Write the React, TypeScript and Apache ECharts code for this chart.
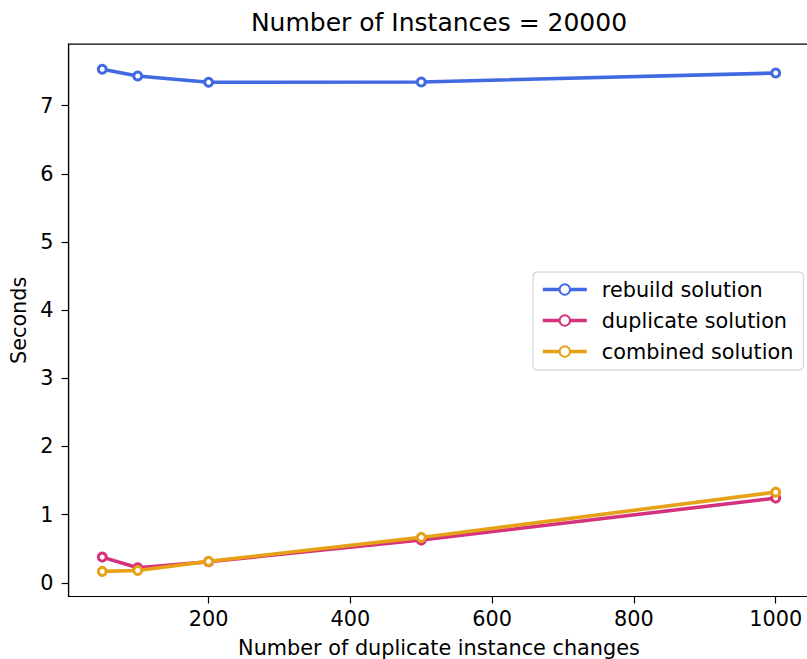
import React, { useEffect, useRef } from "react";
import * as echarts from "echarts";

const xValues = [50, 100, 200, 500, 1000];
const rebuild = [7.535, 7.436, 7.344, 7.348, 7.48];
const duplicate = [0.377, 0.22, 0.31, 0.627, 1.243];
const combined = [0.167, 0.18, 0.314, 0.666, 1.33];
const xTicks = [200, 400, 600, 800, 1000];
const yTicks = [0, 1, 2, 3, 4, 5, 6, 7];

const FONT = "DejaVu Sans";
const FS = 20.8;

export default function App() {
  const ref = useRef<HTMLDivElement>(null);
  useEffect(() => {
    if (!ref.current) return;
    const chart = echarts.init(ref.current, undefined, { renderer: "svg" });
    const mk = (name: string, data: number[], color: string, z: number) => ({
      name,
      type: "line",
      data: xValues.map((x, i) => [x, data[i]]),
      symbol: "circle",
      symbolSize: 8,
      showSymbol: true,
      z,
      lineStyle: { color, width: 3.6 },
      itemStyle: { color: "#ffffff", borderColor: color, borderWidth: 3 },
      emphasis: { disabled: true },
    });
    chart.setOption({
      animation: false,
      backgroundColor: "#ffffff",
      title: {
        text: "Number of Instances = 20000",
        left: 439,
        top: 10,
        padding: 0,
        textAlign: "center",
        textStyle: { fontFamily: FONT, fontSize: 25, fontWeight: "normal", color: "#000" },
      },
      grid: {
        left: 68.6,
        top: 44.2,
        width: 740.8,
        height: 552.3,
        containLabel: false,
        outerBoundsMode: "none",
        show: true,
        borderColor: "#000",
        borderWidth: 1.2,
        backgroundColor: "transparent",
      },
      legend: {
        orient: "vertical",
        left: 533,
        top: 272,
        padding: [7, 10, 8, 8],
        itemWidth: 44,
        itemHeight: 13,
        itemGap: 10,
        backgroundColor: "#ffffff",
        borderColor: "#cccccc",
        borderWidth: 1,
        borderRadius: 4,
        lineStyle: { width: 3.6 },
        textStyle: { fontFamily: FONT, fontSize: FS, color: "#000", padding: [0, 0, 0, 10] },
        data: ["rebuild solution", "duplicate solution", "combined solution"],
      },
      xAxis: {
        type: "value",
        min: 2.5,
        max: 1047.5,
        name: "Number of duplicate instance changes",
        nameLocation: "middle",
        nameGap: 41,
        nameTextStyle: { fontFamily: FONT, fontSize: FS, color: "#000" },
        splitLine: { show: false },
        axisLine: { show: true, onZero: false, lineStyle: { color: "#000", width: 1.2 } },
        axisTick: { show: true, length: 7, customValues: xTicks, lineStyle: { color: "#000", width: 1.2 } },
        axisLabel: {
          customValues: xTicks,
          margin: 12,
          fontFamily: FONT,
          fontSize: FS,
          color: "#000",
          formatter: (v: number) => String(v),
        },
      },
      yAxis: {
        type: "value",
        min: -0.201,
        max: 7.903,
        name: "Seconds",
        nameLocation: "middle",
        nameGap: 36,
        nameRotate: 90,
        nameTextStyle: { fontFamily: FONT, fontSize: FS, color: "#000" },
        splitLine: { show: false },
        axisLine: { show: true, onZero: false, lineStyle: { color: "#000", width: 1.2 } },
        axisTick: { show: true, length: 7, customValues: yTicks, lineStyle: { color: "#000", width: 1.2 } },
        axisLabel: {
          customValues: yTicks,
          margin: 15,
          fontFamily: FONT,
          fontSize: FS,
          color: "#000",
          formatter: (v: number) => String(v),
        },
      },
      series: [
        mk("rebuild solution", rebuild, "#4169e1", 3),
        mk("duplicate solution", duplicate, "#d6317d", 4),
        mk("combined solution", combined, "#e6a117", 5),
      ],
    });
    return () => chart.dispose();
  }, []);
  return (
    <div
      ref={ref}
      style={{ position: "fixed", left: 0, top: 0, width: 807, height: 659, background: "#fff" }}
    />
  );
}
